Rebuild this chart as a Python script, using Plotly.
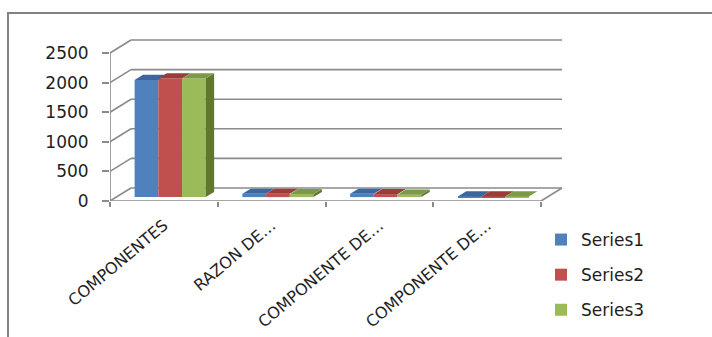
import plotly.graph_objects as go

# ---------------- data ----------------
categories = ["COMPONENTES", "RAZON DE…", "COMPONENTE DE…", "COMPONENTE DE…"]
series_names = ["Series1", "Series2", "Series3"]
series1 = [1980, 55, 55, 10]
series2 = [2005, 55, 50, 10]
series3 = [2005, 50, 40, 10]
y_ticks = [0, 500, 1000, 1500, 2000, 2500]

# ---------------- style / geometry ----------------
front_colors = ["#4F81BD", "#C0504D", "#9BBB59"]
top_colors = ["#3C679C", "#9A3D3A", "#7C9A45"]
side_colors = ["#60772F", "#60772F", "#60772F"]
grid_color = "#8A8A8A"
text_color = "#1E1E1E"
FONT = "DejaVu Sans"

W_PX, H_PX = 712, 337
ML, MR, MT, MB = 110, 149, 39, 136
plot_w = W_PX - ML - MR
plot_h = H_PX - MT - MB
CAT_PX = 107.75            # pixels per category on the front plane
PX_PER_UNIT = 148 / 2500   # front plane vertical scale
DX_PX, DY_PX = 21, 13      # oblique depth offset (full depth)

DXU = DX_PX / CAT_PX
DYV = DY_PX / PX_PER_UNIT
x_range = [-0.5, -0.5 + plot_w / CAT_PX]
y_range = [0, plot_h / PX_PER_UNIT]

BAR_F0, BAR_F1 = 0.30, 0.70  # depth span of columns
BAR_W = 0.22                 # column width (category units)

all_series = [series1, series2, series3]
n_cat = len(categories)

fig = go.Figure()

# front faces as bars
for k, (name, vals) in enumerate(zip(series_names, all_series)):
    xs = [i + BAR_F0 * DXU + (k - 1) * BAR_W for i in range(n_cat)]
    fig.add_trace(go.Bar(
        x=xs, y=vals, base=[BAR_F0 * DYV] * n_cat, width=BAR_W,
        name=name, marker=dict(color=front_colors[k], line=dict(width=0)),
        legendgroup=name, hoverinfo="skip",
    ))

# top faces and (visible) right side faces
bdx = (BAR_F1 - BAR_F0) * DXU
bdy = (BAR_F1 - BAR_F0) * DYV
for k, vals in enumerate(all_series):
    tx, ty, sx, sy = [], [], [], []
    for i, v in enumerate(vals):
        x0 = i + BAR_F0 * DXU + (k - 1.5) * BAR_W
        x1 = x0 + BAR_W
        b = BAR_F0 * DYV
        t = b + v
        tx += [x0, x1, x1 + bdx, x0 + bdx, x0, None]
        ty += [t, t, t + bdy, t + bdy, t, None]
        sx += [x1, x1 + bdx, x1 + bdx, x1, x1, None]
        sy += [b, b + bdy, t + bdy, t, b, None]
    if k == len(all_series) - 1:
        fig.add_trace(go.Scatter(x=sx, y=sy, fill="toself", mode="lines",
                                 fillcolor=side_colors[k], line=dict(width=0),
                                 showlegend=False, hoverinfo="skip"))
    fig.add_trace(go.Scatter(x=tx, y=ty, fill="toself", mode="lines",
                             fillcolor=top_colors[k], line=dict(width=0),
                             showlegend=False, hoverinfo="skip"))

# walls, floor, axes lines
shapes = []
line_style = dict(color=grid_color, width=1.6)
xl, xr = -0.5, n_cat - 0.5
for v in y_ticks:
    shapes.append(dict(type="line", xref="x", yref="y", layer="below",
                       x0=xl + DXU, y0=v + DYV, x1=xr + DXU, y1=v + DYV, line=line_style))
    shapes.append(dict(type="line", xref="x", yref="y", layer="below",
                       x0=xl, y0=v, x1=xl + DXU, y1=v + DYV, line=line_style))
shapes.append(dict(type="line", xref="x", yref="y", layer="below",
                   x0=xr, y0=0, x1=xr + DXU, y1=DYV, line=line_style))
shapes.append(dict(type="line", xref="x", yref="y", layer="below",
                   x0=xl, y0=0, x1=xr, y1=0, line=line_style))
shapes.append(dict(type="line", xref="x", yref="y", layer="below",
                   x0=xl, y0=0, x1=xl, y1=max(y_ticks), line=line_style))

# outer chart frame (partially visible)
def px_to_paper_x(px):
    return (px - ML) / plot_w

def px_to_paper_y(py):
    return (H_PX - MB - py) / plot_h

shapes.append(dict(type="rect", xref="paper", yref="paper", layer="below",
                   x0=px_to_paper_x(8), y0=px_to_paper_y(360),
                   x1=px_to_paper_x(740), y1=px_to_paper_y(13),
                   line=dict(color="#828282", width=2), fillcolor="rgba(0,0,0,0)"))

fig.update_layout(
    width=W_PX, height=H_PX,
    margin=dict(l=ML, r=MR, t=MT, b=MB, pad=0, autoexpand=False),
    paper_bgcolor="white", plot_bgcolor="white",
    barmode="overlay",
    shapes=shapes,
    font=dict(family=FONT, size=17, color=text_color),
    xaxis=dict(range=x_range, tickmode="array", tickvals=list(range(n_cat)),
               ticktext=categories, tickangle=-40, ticks="", showgrid=False,
               zeroline=False, showline=False, ticklabelstandoff=11,
               automargin=False,
               tickfont=dict(family=FONT, size=16, color=text_color)),
    xaxis2=dict(range=x_range, overlaying="x", anchor="y", side="bottom",
                tickmode="array", tickvals=[i - 0.5 for i in range(n_cat + 1)],
                showticklabels=False, ticks="outside", ticklen=5,
                tickcolor=grid_color, tickwidth=1.6, showgrid=False,
                zeroline=False, showline=False, automargin=False),
    yaxis=dict(range=y_range, tickmode="array", tickvals=y_ticks,
               ticks="outside", ticklen=7, tickcolor=grid_color, tickwidth=1.6,
               showgrid=False, zeroline=False, showline=False,
               ticklabelstandoff=10, automargin=False,
               tickfont=dict(family=FONT, size=17, color=text_color)),
    legend=dict(x=px_to_paper_x(541), y=px_to_paper_y(222), xanchor="left",
                yanchor="top", bgcolor="rgba(0,0,0,0)", tracegroupgap=10,
                font=dict(family=FONT, size=17, color=text_color)),
    showlegend=True,
)

# dummy trace to activate xaxis2 ticks
fig.add_trace(go.Scatter(x=[x_range[0]], y=[0], xaxis="x2", mode="markers",
                         marker=dict(opacity=0), showlegend=False, hoverinfo="skip"))

fig.write_html("out.html")
